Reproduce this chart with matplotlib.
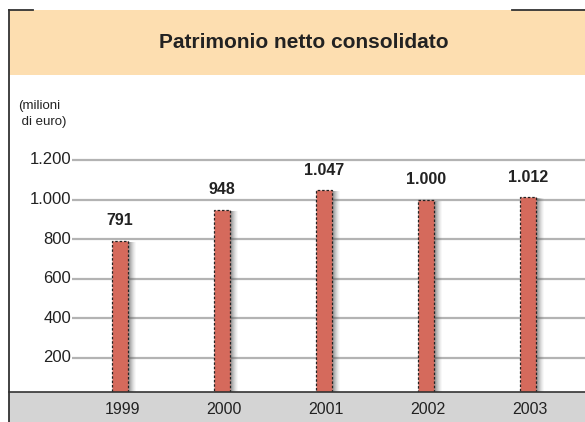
import matplotlib
matplotlib.use("Agg")
import matplotlib.pyplot as plt
from matplotlib.patches import Rectangle
from matplotlib.lines import Line2D

years = ["1999", "2000", "2001", "2002", "2003"]
values = [791, 948, 1047, 1000, 1012]
value_labels = ["791", "948", "1.047", "1.000", "1.012"]
yticks = [200, 400, 600, 800, 1000, 1200]
ytick_labels = ["200", "400", "600", "800", "1.000", "1.200"]
title = "Patrimonio netto consolidato"
unit_label = "(milioni\n di euro)"

plt.rcParams["font.family"] = ["Liberation Sans", "DejaVu Sans"]

W, H = 585, 422
fig = plt.figure(figsize=(W / 100, H / 100), dpi=100)

def fx(p):
    return p / W

def fy(p):
    return 1 - p / H

# title band
fig.patches.append(Rectangle((fx(9), fy(75)), fx(585) - fx(9), fy(10) - fy(75),
                             transform=fig.transFigure, facecolor="#FDDEB0", edgecolor="none", zorder=0))
# bottom gray band
fig.patches.append(Rectangle((fx(9), fy(422)), fx(585) - fx(9), fy(392) - fy(422),
                             transform=fig.transFigure, facecolor="#D4D4D4", edgecolor="none", zorder=0))
# frame lines
fig.lines.append(Line2D([fx(9), fx(9)], [fy(9.5), 0], transform=fig.transFigure, color="#333333", lw=1.3))
fig.lines.append(Line2D([fx(9), fx(33)], [fy(10), fy(10)], transform=fig.transFigure, color="#333333", lw=1.3))
fig.lines.append(Line2D([fx(512), fx(585)], [fy(10), fy(10)], transform=fig.transFigure, color="#333333", lw=1.3))
fig.lines.append(Line2D([fx(9), fx(585)], [fy(392), fy(392)], transform=fig.transFigure, color="#333333", lw=1.2, zorder=5))

fig.text(fx(304), fy(43), title, ha="center", va="center", fontsize=15, fontweight="bold", color="#222222")
fig.text(fx(18), fy(114), unit_label, ha="left", va="center", fontsize=9.5, color="#222222", linespacing=1.55)

# main axes
ax = fig.add_axes([fx(9), fy(392), fx(585) - fx(9), fy(75) - fy(392)])
ax.set_facecolor("none")
for s in ax.spines.values():
    s.set_visible(False)
ax.set_xticks([])
ax.set_yticks([])

spacing = 102.0
x0 = 120.0
def dx(p):
    return (p - x0) / spacing

ax.set_xlim(dx(9), dx(585))
ppu = 0.198
zero = 397.6
ax.set_ylim((zero - 392) / ppu, (zero - 75) / ppu)

xs = list(range(len(years)))
bw = 16 / spacing

# gridlines
ax.hlines(yticks, dx(72), dx(585), color="#B3B3B3", lw=1.6, zorder=1)
for t, lab in zip(yticks, ytick_labels):
    ax.text(dx(71), t, lab, ha="right", va="center", fontsize=12, color="#222222")

# soft shadows to the right of the bars
for k, a in [(8, 0.04), (7, 0.06), (6, 0.08), (5, 0.10), (4, 0.13), (3, 0.16), (2, 0.2)]:
    ax.bar([x + k / spacing for x in xs], [v - 6 for v in values], width=bw, bottom=0,
           color="#555555", alpha=a, edgecolor="none", zorder=2)

ax.bar(xs, values, width=bw, color="#D56A5C", edgecolor="#222222", linewidth=0.9,
       linestyle=(0, (2, 1.5)), zorder=3)

for x, v, lab in zip(xs, values, value_labels):
    ax.text(x, v + 102, lab, ha="center", va="center", fontsize=11.5, fontweight="bold", color="#222222", zorder=4)

for x, y in zip(xs, years):
    fig.text(fx(x0 + x * spacing + 2), fy(409), y, ha="center", va="center", fontsize=11.5, color="#222222")

fig.savefig("out.png", dpi=100)
